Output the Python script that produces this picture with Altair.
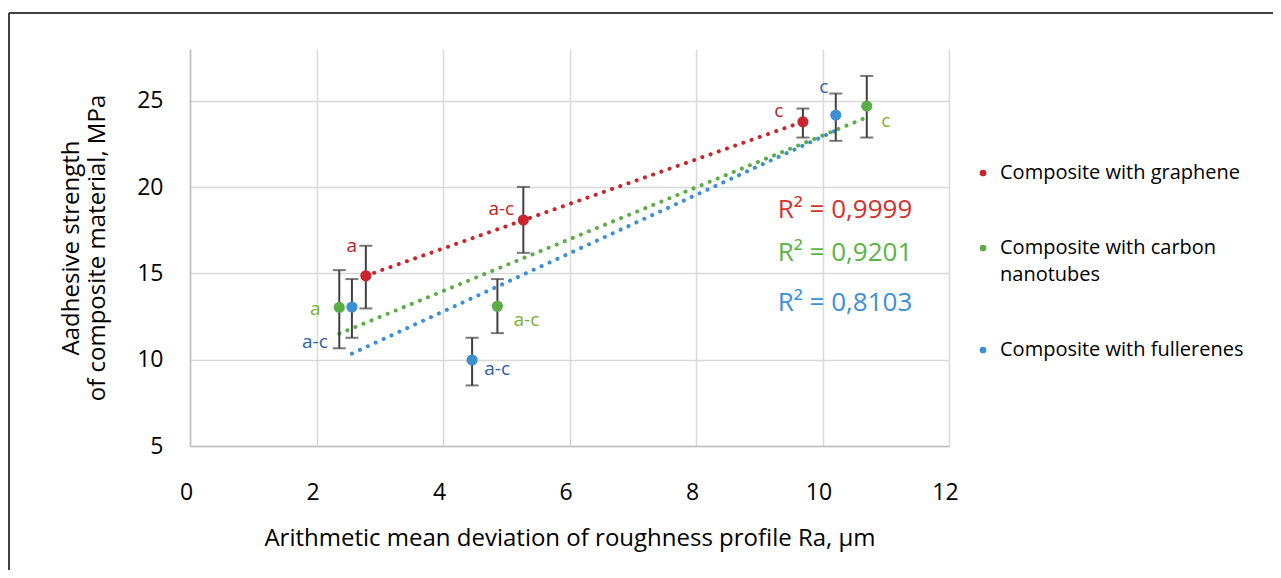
import altair as alt
import pandas as pd

# ---------------- data ----------------
series = ["Composite with graphene", "Composite with carbon nanotubes", "Composite with fullerenes"]

ra_graphene = [2.78, 5.27, 9.69]
str_graphene = [14.86, 18.09, 23.78]
lo_graphene = [12.97, 16.19, 22.87]
hi_graphene = [16.60, 20.01, 24.55]
lab_graphene = ["a", "a-c", "c"]

ra_cnt = [2.36, 4.86, 10.70]
str_cnt = [13.03, 13.10, 24.69]
lo_cnt = [10.66, 11.54, 22.87]
hi_cnt = [15.19, 14.67, 26.44]
lab_cnt = ["a", "a-c", "c"]

ra_full = [2.56, 4.46, 10.21]
str_full = [13.05, 9.98, 24.17]
lo_full = [11.27, 8.51, 22.68]
hi_full = [14.67, 11.27, 25.42]
lab_full = ["a-c", "a-c", "c"]

r2_labels = ["R² = 0,9999", "R² = 0,9201", "R² = 0,8103"]

x_ticks = [0, 2, 4, 6, 8, 10, 12]
y_ticks = [5, 10, 15, 20, 25]

# ---------------- styles ----------------
colors = ["#c8252c", "#5aae45", "#3d8fd3"]
label_colors = ["#c0202a", "#7ab230", "#2f5ea8"]
r2_colors = ["#d2312e", "#5bb346", "#3b8fd8"]
# label offsets (dx, dy) per series / point
label_offsets = [
    [(-14, -30), (-22, -11), (-24, -11)],
    [(-24, 2), (29, 14), (19, 15)],
    [(-37, 35), (25, 9), (-12, -28)],
]
FONT = "Open Sans"

rows = []
for s, ra, st, lo, hi, lab in [
    (series[0], ra_graphene, str_graphene, lo_graphene, hi_graphene, lab_graphene),
    (series[1], ra_cnt, str_cnt, lo_cnt, hi_cnt, lab_cnt),
    (series[2], ra_full, str_full, lo_full, hi_full, lab_full),
]:
    for i in range(len(ra)):
        rows.append({"series": s, "ra": ra[i], "strength": st[i], "lo": lo[i], "hi": hi[i],
                     "label": lab[i], "idx": i})
df = pd.DataFrame(rows)

W, H = 759, 397
xscale = alt.Scale(domain=[0, 12], nice=False, zero=False)
yscale = alt.Scale(domain=[5, 28], nice=False, zero=False)

x_enc = alt.X("ra:Q", scale=xscale, axis=alt.Axis(
    values=x_ticks, format="d", title="Arithmetic mean deviation of roughness profile Ra, µm",
    tickSize=0, labelPadding=35, labelOffset=-4, labelFlush=False, labelOverlap=False,
    domainColor="#bfbfbf", domainWidth=1.5, gridColor="#d9d9d9", gridWidth=1.5,
    labelFontSize=23, titleFontSize=24, titlePadding=22))
y_enc = alt.Y("strength:Q", scale=yscale, axis=alt.Axis(
    values=y_ticks, format="d", title=["Aadhesive strength", "of composite material, MPa"],
    tickSize=0, labelPadding=27, domainColor="#bfbfbf", domainWidth=1.5,
    gridColor="#d9d9d9", gridWidth=1.5, labelFontSize=23, titleFontSize=24,
    titlePadding=27))

base = alt.Chart(df)

layers = []

# outer chart border (top and left edges)
border_df = pd.DataFrame({"k": [0]})
layers.append(alt.Chart(border_df).mark_rule(color="#404040", strokeWidth=2).encode(
    x=alt.value(-181), x2=alt.value(1100), y=alt.value(-36)))
layers.append(alt.Chart(border_df).mark_rule(color="#404040", strokeWidth=2).encode(
    x=alt.value(-181), y=alt.value(-36), y2=alt.value(540)))

# trend lines (linear regression)
for s, c in zip(series, colors):
    layers.append(
        base.transform_filter(alt.datum.series == s)
        .transform_regression("ra", "strength", method="linear")
        .mark_line(color=c, strokeWidth=4, strokeDash=[0.1, 8.6], strokeCap="round")
        .encode(x=alt.X("ra:Q", scale=xscale), y=alt.Y("strength:Q", scale=yscale))
    )

# error bars
layers.append(base.mark_rule(color="#404040", strokeWidth=2).encode(
    x=alt.X("ra:Q", scale=xscale), y=alt.Y("lo:Q", scale=yscale), y2="hi:Q"))
layers.append(base.mark_tick(color="#404040", thickness=2, size=13, orient="horizontal").encode(
    x=alt.X("ra:Q", scale=xscale), y=alt.Y("lo:Q", scale=yscale)))
layers.append(base.mark_tick(color="#404040", thickness=2, size=13, orient="horizontal").encode(
    x=alt.X("ra:Q", scale=xscale), y=alt.Y("hi:Q", scale=yscale)))

# points with legend
layers.append(base.mark_circle(size=125, opacity=1).encode(
    x=x_enc, y=y_enc,
    color=alt.Color("series:N", scale=alt.Scale(domain=series, range=colors),
                    sort=series,
                    legend=alt.Legend(
                        title=None, orient="none", legendX=783, legendY=114,
                        symbolType="circle", symbolSize=45, labelFontSize=20,
                        labelFont=FONT, labelColor="black", labelLimit=400,
                        labelOffset=7, rowPadding=55, padding=0,
                        labelExpr="datum.label == 'Composite with carbon nanotubes' ? ['Composite with carbon', 'nanotubes'] : datum.label",
                    ))))

# point labels
for si, s in enumerate(series):
    for i in range(3):
        dx, dy = label_offsets[si][i]
        layers.append(
            base.transform_filter((alt.datum.series == s) & (alt.datum.idx == i))
            .mark_text(font=FONT, fontSize=19, color=label_colors[si], dx=dx, dy=dy,
                       align="center", baseline="middle")
            .encode(x=alt.X("ra:Q", scale=xscale), y=alt.Y("strength:Q", scale=yscale),
                    text="label:N"))

# R² annotations
r2_df = pd.DataFrame({"series": series, "text": r2_labels})
r2_pos = [161, 204, 254]
for si in range(3):
    layers.append(
        alt.Chart(r2_df).transform_filter(alt.datum.series == series[si])
        .mark_text(font=FONT, fontSize=26, color=r2_colors[si], align="center", baseline="middle")
        .encode(x=alt.value(655), y=alt.value(r2_pos[si]), text="text:N"))

chart = alt.layer(*layers).properties(
    width=W, height=H,
    background="white",
    autosize=alt.AutoSizeParams(type="none"),
    padding={"left": 182, "top": 41, "right": 324, "bottom": 124},
).configure(
    style={"guide-label": {"lineHeight": 27}}
).configure_view(stroke=None).configure_axis(
    labelFont=FONT, titleFont=FONT, labelColor="black", titleColor="black",
    titleFontWeight="normal"
)

chart.save("out.html", embed_options={"renderer": "svg", "actions": False})
